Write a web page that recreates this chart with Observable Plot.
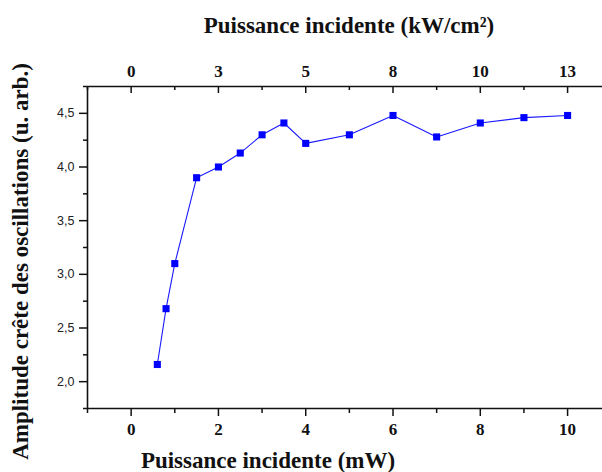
<!DOCTYPE html>
<html>
<head>
<meta charset="utf-8">
<script src="https://cdn.jsdelivr.net/npm/d3@7"></script>
<script src="https://cdn.jsdelivr.net/npm/@observablehq/plot@0.6"></script>
<style>
  html, body { margin: 0; padding: 0; background: #fff; }
  #chart svg { display: block; }
</style>
</head>
<body>
<div id="chart"></div>
<script>
// Data
const powerMW = [0.6, 0.8, 1, 1.5, 2, 2.5, 3, 3.5, 4, 5, 6, 7, 8, 9, 10];
const amplitude = [2.16, 2.68, 3.10, 3.90, 4.00, 4.13, 4.30, 4.41, 4.22, 4.30, 4.48, 4.28, 4.41, 4.46, 4.48];

const xMajor = [0, 2, 4, 6, 8, 10];
const xMinor = [-1, 1, 3, 5, 7, 9];
const topLabels = ["0", "3", "5", "8", "10", "13"];
const yMajor = [2.0, 2.5, 3.0, 3.5, 4.0, 4.5];
const yMinor = [1.75, 2.25, 2.75, 3.25, 3.75, 4.25, 4.75];
const xDomain = [-1, 10.8];
const yDomain = [1.75, 4.75];

const bottomTitle = "Puissance incidente (mW)";
const topTitle = "Puissance incidente (kW/cm²)";
const yTitle = "Amplitude crête des oscillations (u. arb.)";

const data = powerMW.map((x, i) => ({x, y: amplitude[i]}));
const topMap = new Map(xMajor.map((v, i) => [v, topLabels[i]]));

const W = 602, H = 472;
const mL = 87, mR = 0, mT = 86, mB = 64;
const innerH = H - mT - mB;

const serif = "'Liberation Serif', 'Times New Roman', serif";
const sans = "'Liberation Sans', Arial, sans-serif";
const ink = "#111";

const chart = Plot.plot({
  width: W,
  height: H,
  marginLeft: mL,
  marginRight: mR,
  marginTop: mT,
  marginBottom: mB,
  style: {fontFamily: serif, background: "#fff"},
  x: {domain: xDomain, axis: null},
  y: {domain: yDomain, axis: null},
  marks: [
    // frame lines
    Plot.ruleX([xDomain[0]], {stroke: ink, strokeWidth: 1.6}),
    Plot.ruleY(yDomain, {stroke: ink, strokeWidth: 1.6}),
    // bottom axis
    Plot.axisX({ticks: xMajor, tickSize: 8, tickPadding: 6, tickFormat: d => String(d),
      fontFamily: serif, fontWeight: "bold", fontSize: 17, fill: ink, stroke: ink, strokeWidth: 1.5, label: null}),
    Plot.axisX({ticks: xMinor, tickSize: 5, tickFormat: () => "", stroke: ink, strokeWidth: 1.5, label: null}),
    // top axis labels
    Plot.axisX({anchor: "top", ticks: xMajor, tickSize: 0, tickPadding: 10, tickFormat: d => topMap.get(d),
      fontFamily: serif, fontWeight: "bold", fontSize: 17, fill: ink, label: null}),
    // top inward ticks
    Plot.tickX(xMajor, {x: d => d, insetBottom: innerH - 7, stroke: ink, strokeWidth: 1.5}),
    Plot.tickX(xMinor, {x: d => d, insetBottom: innerH - 4, stroke: ink, strokeWidth: 1.5}),
    // left axis
    Plot.axisY({ticks: yMajor, tickSize: 8, tickPadding: 5, tickFormat: d => d.toFixed(1).replace(".", ","),
      fontFamily: sans, fontSize: 12.5, fill: "#222", stroke: ink, strokeWidth: 1.5, label: null}),
    Plot.axisY({ticks: yMinor, tickSize: 4, tickFormat: () => "", stroke: ink, strokeWidth: 1.5, label: null}),
    // data
    Plot.line(data, {x: "x", y: "y", stroke: "#1a1aff", strokeWidth: 1.1}),
    Plot.dot(data, {x: "x", y: "y", symbol: "square", r: 4, fill: "#0000ff", stroke: "none"}),
    // titles
    Plot.text([bottomTitle], {frameAnchor: "bottom", textAnchor: "middle", lineAnchor: "bottom", dx: -77, dy: 59,
      fontFamily: serif, fontWeight: "bold", fontSize: 23, fill: ink}),
    Plot.text([topTitle], {frameAnchor: "top", textAnchor: "middle", lineAnchor: "bottom", dx: 4, dy: -54,
      fontFamily: serif, fontWeight: "bold", fontSize: 23, fill: ink}),
    Plot.text([yTitle], {frameAnchor: "left", textAnchor: "middle", lineAnchor: "middle", rotate: -90, dx: -67, dy: 14,
      fontFamily: serif, fontWeight: "bold", fontSize: 23, fill: ink})
  ]
});
document.getElementById("chart").appendChild(chart);
</script>
</body>
</html>
